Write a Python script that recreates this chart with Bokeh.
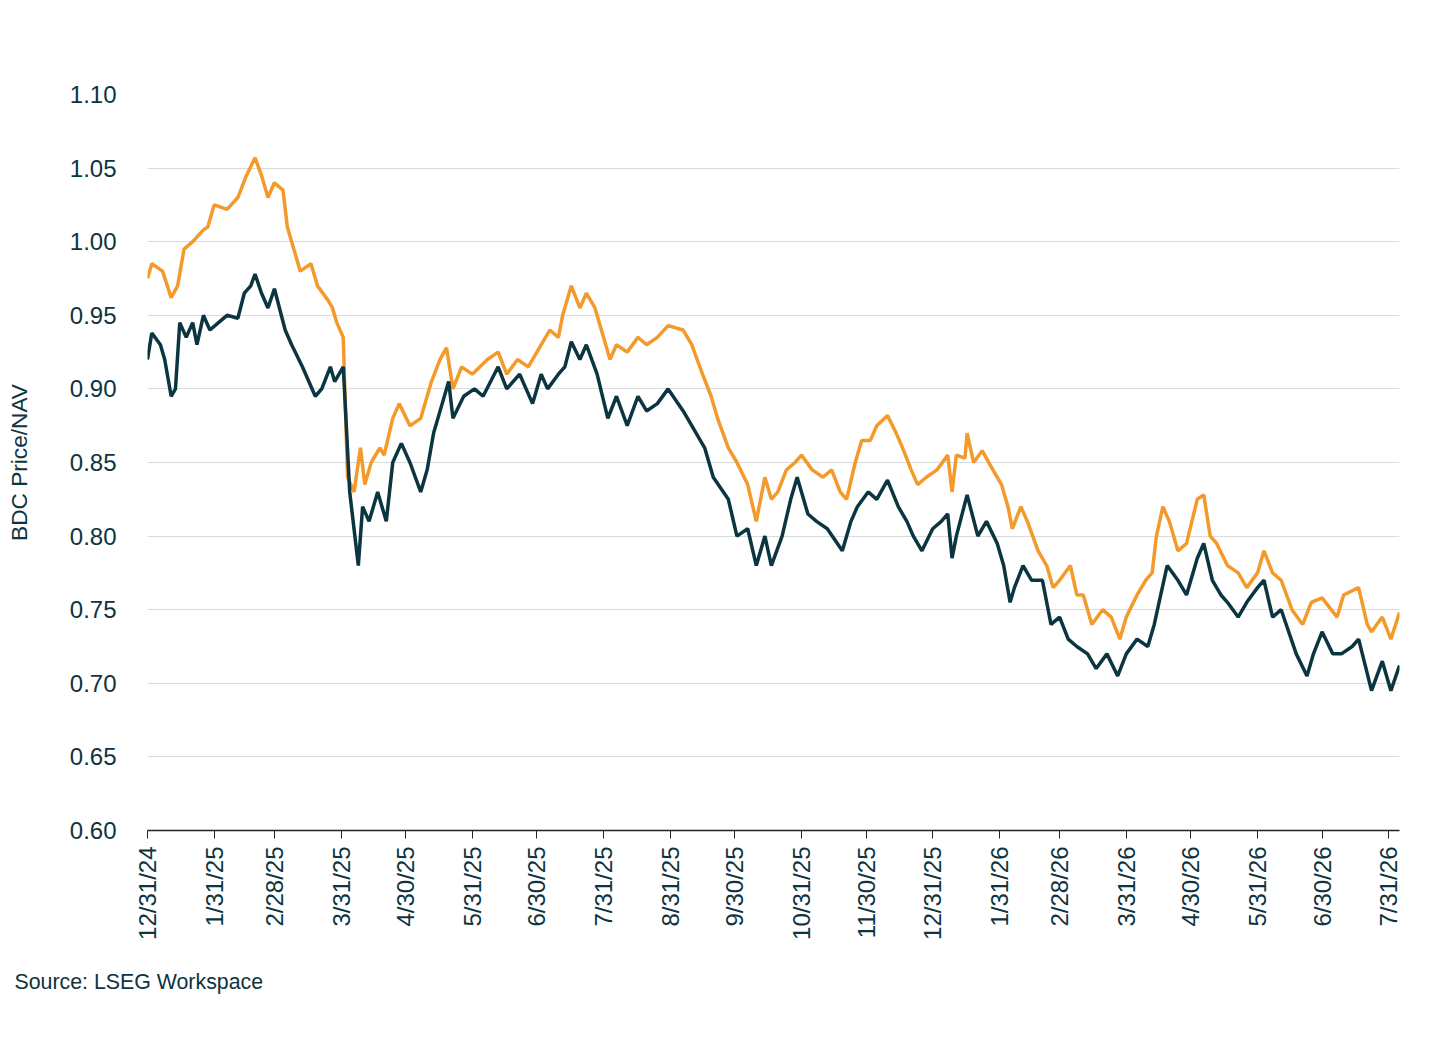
import pandas as pd
from bokeh.plotting import figure
from bokeh.models import FixedTicker, Legend, LegendItem, Title, Range1d
from bokeh.embed import file_html
from bokeh.resources import INLINE
import math

start = pd.Timestamp("2024-12-31")
tick_dates = ["2024-12-31","2025-01-31","2025-02-28","2025-03-31","2025-04-30","2025-05-31","2025-06-30",
              "2025-07-31","2025-08-31","2025-09-30","2025-10-31","2025-11-30","2025-12-31","2026-01-31",
              "2026-02-28","2026-03-31","2026-04-30","2026-05-31","2026-06-30","2026-07-31"]
tick_labels = ["12/31/24","1/31/25","2/28/25","3/31/25","4/30/25","5/31/25","6/30/25","7/31/25","8/31/25",
               "9/30/25","10/31/25","11/30/25","12/31/25","1/31/26","2/28/26","3/31/26","4/30/26","5/31/26",
               "6/30/26","7/31/26"]

avg_days = [0,2,7,11,14,17,21,26,28,31,37,42,46,50,53,56,59,63,65,67,71,76,79,84,86,88,91,93,96,99,101,104,108,110,114,117,122,127,132,136,139,142,146,151,158,163,167,172,177,181,187,191,193,197,201,204,208,211,215,218,223,228,232,237,242,249,253,258,262,265,270,274,279,283,287,290,293,297,301,304,309,314,318,322,325,329,332,336,339,344,348,351,355,358,362,367,372,374,376,380,381,384,388,393,397,400,402,406,409,414,418,421,424,429,432,435,439,444,448,452,455,460,464,467,469,472,475,479,483,488,491,494,497,502,507,511,516,519,523,527,532,537,541,546,553,556,563,567,569,574,578,582]
avg_vals = [0.975,0.985,0.98,0.962,0.97,0.995,1.0,1.008,1.01,1.025,1.022,1.03,1.045,1.057,1.045,1.03,1.04,1.035,1.01,1.0,0.98,0.985,0.97,0.96,0.955,0.945,0.935,0.84,0.83,0.86,0.835,0.85,0.86,0.855,0.88,0.89,0.875,0.88,0.905,0.92,0.928,0.9,0.915,0.91,0.92,0.925,0.91,0.92,0.915,0.925,0.94,0.935,0.95,0.97,0.955,0.965,0.955,0.94,0.92,0.93,0.925,0.935,0.93,0.935,0.943,0.94,0.93,0.91,0.895,0.88,0.86,0.85,0.835,0.81,0.84,0.825,0.83,0.845,0.85,0.855,0.845,0.84,0.845,0.83,0.825,0.85,0.865,0.865,0.875,0.882,0.87,0.86,0.845,0.835,0.84,0.845,0.855,0.83,0.855,0.853,0.87,0.85,0.858,0.845,0.835,0.82,0.805,0.82,0.81,0.79,0.78,0.765,0.77,0.78,0.76,0.76,0.74,0.75,0.745,0.73,0.745,0.76,0.77,0.775,0.8,0.82,0.81,0.79,0.795,0.825,0.828,0.8,0.795,0.78,0.775,0.765,0.775,0.79,0.775,0.77,0.75,0.74,0.755,0.758,0.745,0.76,0.765,0.74,0.735,0.745,0.73,0.748]

med_days = [0,2,6,8,11,13,15,18,21,23,26,29,33,37,42,45,48,50,53,56,59,64,67,72,78,81,85,87,91,94,96,98,100,103,107,111,114,118,122,127,130,133,137,140,142,147,152,156,163,167,173,179,183,186,191,194,197,201,204,209,214,218,223,228,232,237,242,249,253,259,263,270,274,279,283,287,290,295,299,302,307,311,316,323,327,330,335,339,344,349,353,356,360,365,369,372,374,376,381,386,390,395,398,401,403,407,411,416,420,424,428,432,437,441,446,451,455,460,465,468,471,474,479,483,488,491,495,499,502,507,511,516,519,523,527,534,539,542,546,551,555,560,563,569,574,578,582]
med_vals = [0.92,0.938,0.93,0.92,0.895,0.9,0.945,0.935,0.945,0.93,0.95,0.94,0.945,0.95,0.948,0.965,0.97,0.978,0.965,0.955,0.968,0.94,0.93,0.915,0.895,0.9,0.915,0.905,0.915,0.83,0.805,0.78,0.82,0.81,0.83,0.81,0.85,0.863,0.85,0.83,0.845,0.87,0.89,0.905,0.88,0.895,0.9,0.895,0.915,0.9,0.91,0.89,0.91,0.9,0.91,0.915,0.932,0.92,0.93,0.91,0.88,0.895,0.875,0.895,0.885,0.89,0.9,0.885,0.875,0.86,0.84,0.825,0.8,0.805,0.78,0.8,0.78,0.8,0.825,0.84,0.815,0.81,0.805,0.79,0.81,0.82,0.83,0.825,0.838,0.82,0.81,0.8,0.79,0.805,0.81,0.815,0.785,0.8,0.828,0.8,0.81,0.795,0.78,0.755,0.765,0.78,0.77,0.77,0.74,0.745,0.73,0.725,0.72,0.71,0.72,0.705,0.72,0.73,0.725,0.74,0.76,0.78,0.77,0.76,0.785,0.795,0.77,0.76,0.755,0.745,0.755,0.765,0.77,0.745,0.75,0.72,0.705,0.72,0.735,0.72,0.72,0.725,0.73,0.695,0.715,0.695,0.712]

tick_pos = [(pd.Timestamp(d) - start).days for d in tick_dates]
y_ticks = [0.6, 0.65, 0.7, 0.75, 0.8, 0.85, 0.9, 0.95, 1.0, 1.05, 1.1]

TXT = "#0d3440"
FONT = "Liberation Sans"
p = figure(frame_width=1252, frame_height=736, output_backend="svg", toolbar_location=None,
           x_range=Range1d(0, 582), y_range=Range1d(0.6, 1.1),
           min_border_left=147, min_border_right=17, min_border_top=94, min_border_bottom=10)
p.outline_line_color = None
r1 = p.line(avg_days, avg_vals, line_color="#f39a2b", line_width=3.5)
r2 = p.line(med_days, med_vals, line_color="#0b3540", line_width=3.5)

p.xaxis.ticker = FixedTicker(ticks=tick_pos)
p.xaxis.major_label_overrides = {t: l for t, l in zip(tick_pos, tick_labels)}
p.xaxis.major_label_orientation = math.pi / 2
p.xaxis.minor_tick_line_color = None
p.xaxis.axis_line_color = "#222222"
p.xaxis.axis_line_width = 1.5
p.xaxis.major_tick_line_color = "#222222"
p.xaxis.major_tick_out = 8
p.xaxis.major_tick_in = 0
p.xaxis.major_label_standoff = 8
p.yaxis.ticker = FixedTicker(ticks=y_ticks)
p.yaxis.major_label_overrides = {v: f"{v:.2f}" for v in y_ticks}
p.yaxis.axis_line_color = None
p.yaxis.major_tick_line_color = None
p.yaxis.minor_tick_line_color = None
p.yaxis.major_label_standoff = 25
p.yaxis.axis_label = "BDC Price/NAV"
p.yaxis.axis_label_standoff = 35
for ax in (p.xaxis, p.yaxis):
    ax.major_label_text_font = FONT
    ax.major_label_text_font_size = "18pt"
    ax.major_label_text_color = TXT
    ax.axis_label_text_font = FONT
    ax.axis_label_text_font_size = "17pt"
    ax.axis_label_text_font_style = "normal"
    ax.axis_label_text_color = TXT
p.xgrid.grid_line_color = None
p.ygrid.grid_line_color = "#d9dcdc"
p.ygrid.grid_line_width = 1.2

legend = Legend(items=[LegendItem(label="Avg. Price-to-NAV", renderers=[r1]),
                       LegendItem(label="Median Price-to-NAV", renderers=[r2])],
                orientation="horizontal", location=(645, 740), border_line_color=None,
                background_fill_alpha=0, label_text_font=FONT, label_text_font_size="18pt",
                label_text_color=TXT, glyph_width=42, spacing=20, margin=0, padding=2,
                label_standoff=2)
p.add_layout(legend, "center")

p.add_layout(Title(text="Source: LSEG Workspace", align="left", text_font=FONT,
                   text_font_size="16pt", text_font_style="normal", text_color=TXT,
                   offset=-133, standoff=50), "below")

open("out.html", "w").write(file_html(p, INLINE))
